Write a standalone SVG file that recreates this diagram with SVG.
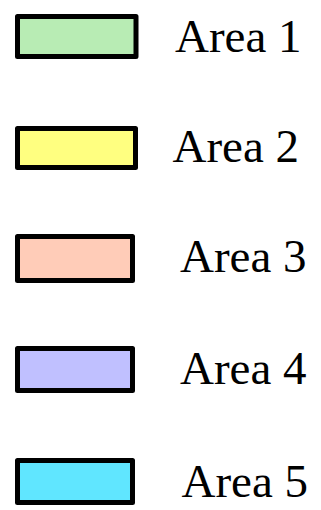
<svg xmlns="http://www.w3.org/2000/svg" width="321" height="510" viewBox="0 0 321 510">
<style>
.sw{stroke:#000;stroke-width:5;stroke-linejoin:round}
.lbl{font-family:"Liberation Serif","Times New Roman",serif;font-size:47px;fill:#000}
</style>
<rect width="321" height="510" fill="#fff"/>
<g id="area1">
<rect class="sw" x="17.5" y="16.5" width="118.5" height="40" fill="#b8ecb4"/>
<text class="lbl" x="175" y="52">Area 1</text>
</g>
<g id="area2">
<rect class="sw" x="17.5" y="128.5" width="118" height="39" fill="#ffff80"/>
<text class="lbl" x="172.5" y="162">Area 2</text>
</g>
<g id="area3">
<rect class="sw" x="17.5" y="236.5" width="115" height="44" fill="#ffccb8"/>
<text class="lbl" x="180" y="272">Area 3</text>
</g>
<g id="area4">
<rect class="sw" x="17.5" y="348.5" width="115" height="42" fill="#c0c0ff"/>
<text class="lbl" x="180" y="383.5">Area 4</text>
</g>
<g id="area5">
<rect class="sw" x="17.5" y="460.5" width="115" height="42" fill="#60e6ff"/>
<text class="lbl" x="181.5" y="497">Area 5</text>
</g>
<g id="connectors"/>
</svg>
